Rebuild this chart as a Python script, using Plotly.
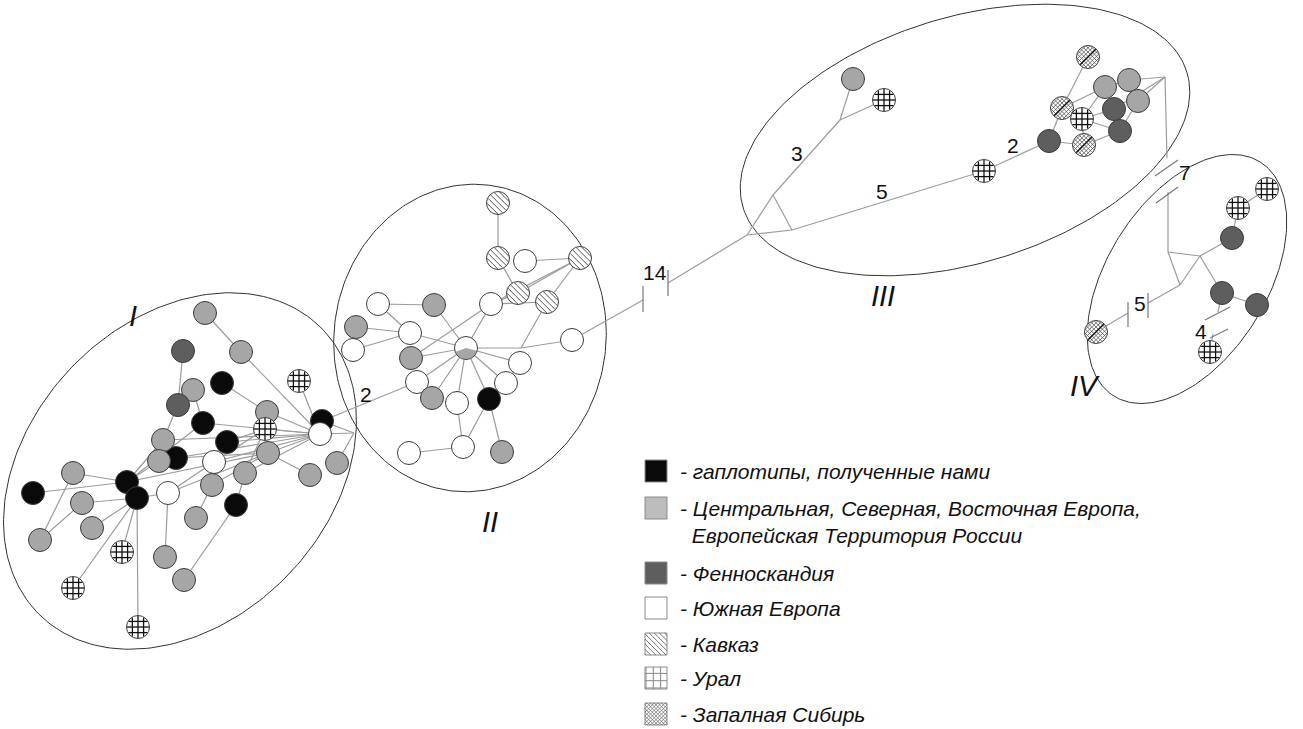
import numpy as np
import plotly.graph_objects as go

W, H = 1303, 729
R = 11.5  # node radius in px

# ---------------- data: haplotype nodes ----------------
# types: B black (ours), G central/north/east Europe, F Fennoscandia, W south Europe,
#        K Caucasus, U Ural, S West Siberia, C mixed (white+gray), v = median vertex
node_id = ["a1","a2","a3","a4","a5","a6","a7","a8","a10","a11","a14","a12","a13","a15","a16",
           "a17","a18","a19","a20","a21","a22","a23","a24","a25","a26","a27","a28","a29","a30",
           "a31","a32","a34","a35","a9","a33","a36","a37","j1",
           "b1","b2","b3","b4","b5","b6","b7","b8","b9","b12","b10","b11","b13","b14","b17","b15",
           "b16","b18","b19","b20","b21","b22","b23","b24","j2",
           "jA","jB","jC","jD","c1","c2","c3","c4","c5","c6","c7","c8","c9","c10","c11","c12","c13",
           "jE","jF","jG","jH","jI","jJ","d1","d2","d3","d4","d5","d6","d7",
           "p14a","p14b","p4a","p4b","p5a","p5b"]
node_x = [205,183,241,222,299,193,178,267,203,227,176,163,159,214,268,
          322,320,337,310,245,212,73,127,137,33,168,82,92,40,
          236,196,165,184,265,122,73,138,354,
          498,498,525,580,518,547,491,378,434,353,356,410,466,572,417,411,
          520,506,432,457,489,463,409,502,521,
          747,773,792,840,853,884,984,1049,1088,1105,1129,1062,1114,1138,1082,1120,1084,
          1165,1167,1168,1168,1200,1180,1232,1238,1267,1222,1257,1210,1096,
          643,668,1218,1213,1148,1128]
node_y = [313,351,352,383,381,390,405,412,423,442,458,440,461,462,453,
          421,434,463,475,473,485,473,482,498,493,493,503,528,540,
          505,518,557,580,429,552,588,627,433,
          203,258,261,258,293,302,304,304,305,350,327,333,348,340,382,358,
          363,383,398,403,399,447,453,452,348,
          235,195,230,120,79,100,171,141,57,87,80,108,109,101,119,131,145,
          77,158,192,252,256,285,238,208,189,293,305,352,332,
          300,283,312,334,303,313]
node_type = ["G","F","G","B","U","G","F","G","B","B","B","G","G","W","G",
             "B","W","G","G","G","G","G","B","B","B","W","G","G","G",
             "B","G","G","G","U","U","U","U","v",
             "K","K","W","K","K","K","W","W","G","W","G","W","C","W","W","G",
             "W","W","G","W","B","W","W","G","v",
             "v","v","v","v","G","U","U","F","S","G","G","S","F","G","U","F","S",
             "v","v","v","v","v","v","F","U","U","F","F","U","S",
             "v","v","v","v","v","v"]

# ---------------- data: network links ----------------
edges = [
    ("a1","a3"),("a3","a18"),("a2","a7"),("a6","a10"),("a7","a12"),("a4","a8"),("a5","a18"),
    ("a18","a8"),("a18","a9"),("a18","a10"),("a18","a12"),("a18","a11"),("a18","a14"),
    ("a18","a15"),("a18","a16"),("a18","a21"),("a18","j1"),("j1","a19"),("a17","j1"),
    ("a20","a16"),("a16","a24"),("a16","a27"),("a16","a14"),("a16","a22"),("a9","a15"),
    ("a9","a11"),("a24","a12"),("a24","a10"),("a24","a13"),("a23","a24"),("a26","a24"),
    ("a28","a25"),("a30","a23"),("a30","a28"),("a25","a29"),("a25","a33"),("a25","a36"),
    ("a25","a37"),("a25","a27"),("a27","a15"),("a34","a27"),("a35","a31"),("a32","a22"),
    ("a31","a21"),("a21","a9"),("a22","a11"),
    ("a17","b17"),
    ("b1","b2"),("b2","b5"),("b3","b4"),("b4","b5"),("b4","b6"),("b7","b4"),("b7","b5"),
    ("b7","b6"),("b15","b7"),("b13","b7"),("b8","b9"),("b8","b11"),("b10","b11"),("b12","b11"),
    ("b11","b13"),("b9","b13"),("b15","b13"),("b17","b13"),("b19","b13"),("b20","b13"),
    ("b21","b13"),("b18","b13"),("b16","b13"),("b13","j2"),("j2","b14"),("j2","b6"),
    ("b22","b20"),("b22","b21"),("b21","b24"),("b23","b22"),("b17","b19"),("b16","b18"),
    ("b14","p14a"),("p14b","jA"),
    ("jA","jB"),("jB","jC"),("jA","jC"),("jB","jD"),("jD","c1"),("jD","c2"),("jC","c3"),
    ("c3","c4"),("c4","c8"),("c4","c13"),("c5","c8"),("c8","c6"),("c8","c11"),("c11","c9"),
    ("c11","c12"),("c11","c13"),("c13","c12"),("c6","c9"),("c9","c12"),("c7","jE"),
    ("c10","jE"),("c9","jE"),("c6","c7"),("c10","c12"),("c11","c6"),("jE","jF"),
    ("jG","jH"),("jH","jI"),("jH","jJ"),("jJ","jI"),("jI","d1"),("d1","d2"),("d2","d3"),
    ("jI","d4"),("d4","d5"),("d4","p4a"),("p4b","d6"),("jJ","p5a"),("p5b","d7"),
]

# mutation-count break marks (segments) and their labels
break_x0 = [643, 668, 1155, 1156, 1205, 1210, 1148, 1128]
break_y0 = [286, 270, 176, 203, 320, 338, 293, 302]
break_x1 = [643, 668, 1178, 1178, 1230, 1228, 1148, 1128]
break_y1 = [312, 296, 160, 187, 307, 329, 318, 327]
step_labels = ["14", "3", "5", "2", "7", "5", "4", "2"]
step_x = [655, 797, 882, 1013, 1185, 1140, 1201, 366]
step_y = [272, 153, 191, 145, 172, 303, 331, 394]

# haplogroup ellipses
cluster_names = ["I", "II", "III", "IV"]
cluster_cx = [180, 470, 965, 1187]
cluster_cy = [471, 338, 140, 279]
cluster_a = [201, 154, 232, 138]
cluster_b = [150, 136, 123, 80]
cluster_angle = [46, 83, 17, 58]
cluster_label_x = [133, 490, 883, 1085]
cluster_label_y = [316, 522, 296, 386]

# legend
legend_types = ["B", "G", "F", "W", "K", "U", "S"]
legend_labels = ["- гаплотипы, полученные нами",
                 "- Центральная, Северная, Восточная Европа,<br>  Европейская Территория России",
                 "- Фенноскандия",
                 "- Южная Европа", "- Кавказ", "- Урал", "- Запалная Сибирь"]
legend_y = [471, 508, 573, 608, 644, 678, 714]

# ---------------- styles ----------------
fill = {"B": "#0a0a0a", "G": "#a6a6a6", "F": "#5e5e5e", "W": "#ffffff",
        "K": "#ffffff", "U": "#ffffff", "S": "#ffffff", "C": "#ffffff"}
legend_fill = {"B": "#0a0a0a", "G": "#bdbdbd", "F": "#5e5e5e", "W": "#ffffff",
               "K": "#ffffff", "U": "#ffffff", "S": "#ffffff"}
OUT = "#3c3c3c"
EDGE = "#9c9c9c"
FONT = "Liberation Sans, Arial"

pos = {n: (x, y) for n, x, y in zip(node_id, node_x, node_y)}
typ = dict(zip(node_id, node_type))

fig = go.Figure()

def seg_trace(xs, ys, color, width):
    fig.add_trace(go.Scatter(x=xs, y=ys, mode="lines", line=dict(color=color, width=width),
                             hoverinfo="skip", showlegend=False))

# ellipses
for cx, cy, a, b, ang in zip(cluster_cx, cluster_cy, cluster_a, cluster_b, cluster_angle):
    t = np.linspace(0, 2 * np.pi, 240)
    th = np.radians(ang)
    ex = cx + a * np.cos(t) * np.cos(th) - b * np.sin(t) * np.sin(th)
    ey = cy - (a * np.cos(t) * np.sin(th) + b * np.sin(t) * np.cos(th))
    seg_trace(ex, ey, "#333333", 1)

# edges
ex, ey = [], []
for u, v in edges:
    ex += [pos[u][0], pos[v][0], None]
    ey += [pos[u][1], pos[v][1], None]
seg_trace(ex, ey, EDGE, 1.2)

# break marks
bx, by = [], []
for x0, y0, x1, y1 in zip(break_x0, break_y0, break_x1, break_y1):
    bx += [x0, x1, None]
    by += [y0, y1, None]
seg_trace(bx, by, "#777777", 1.2)

# plain nodes
plain = [n for n in node_id if typ[n] in ("B", "G", "F", "W")]
fig.add_trace(go.Scatter(x=[pos[n][0] for n in plain], y=[pos[n][1] for n in plain], mode="markers",
                         marker=dict(size=2 * R, color=[fill[typ[n]] for n in plain],
                                     line=dict(color=OUT, width=1)),
                         hoverinfo="skip", showlegend=False))

# hatched / mixed nodes
special = [n for n in node_id if typ[n] in ("K", "U", "S", "C")]
fig.add_trace(go.Scatter(x=[pos[n][0] for n in special], y=[pos[n][1] for n in special], mode="markers",
                         marker=dict(size=2 * R, color="#ffffff", line=dict(width=0)),
                         hoverinfo="skip", showlegend=False))

def circle_hatch(cx, cy, r, ang, spacing, offset=0.0):
    d = np.array([np.cos(np.radians(ang)), np.sin(np.radians(ang))])
    nrm = np.array([-d[1], d[0]])
    xs, ys = [], []
    t = -r + offset
    while t <= r:
        if abs(t) < r:
            h = np.sqrt(r * r - t * t)
            p = np.array([cx, cy]) + t * nrm
            a, b = p - h * d, p + h * d
            xs += [a[0], b[0], None]
            ys += [a[1], b[1], None]
        t += spacing
    return xs, ys

def rect_hatch(x0, y0, x1, y1, ang, spacing):
    cx, cy = (x0 + x1) / 2, (y0 + y1) / 2
    r = np.hypot(x1 - x0, y1 - y0) / 2
    d = np.array([np.cos(np.radians(ang)), np.sin(np.radians(ang))])
    nrm = np.array([-d[1], d[0]])
    xs, ys = [], []
    t = -r + spacing / 2
    while t <= r:
        p = np.array([cx, cy]) + t * nrm
        lo, hi = -1e9, 1e9
        ok = True
        for k, (mn, mx) in enumerate([(x0, x1), (y0, y1)]):
            if abs(d[k]) < 1e-9:
                if not (mn <= p[k] <= mx):
                    ok = False
            else:
                s1, s2 = (mn - p[k]) / d[k], (mx - p[k]) / d[k]
                lo, hi = max(lo, min(s1, s2)), min(hi, max(s1, s2))
        if ok and hi > lo:
            a, b = p + lo * d, p + hi * d
            xs += [a[0], b[0], None]
            ys += [a[1], b[1], None]
        t += spacing
    return xs, ys

kx, ky, ux, uy, sx, sy, s2x, s2y = [], [], [], [], [], [], [], []
for n in special:
    cx, cy = pos[n]
    if typ[n] == "K":
        a, b = circle_hatch(cx, cy, R - 0.5, 45, 4.2, 2.1)
        kx += a; ky += b
    elif typ[n] == "U":
        for ang in (0, 90):
            a, b = circle_hatch(cx, cy, R - 0.5, ang, 5.6, R - 0.5 - 5.6 * 2 + 0.01)
            ux += a; uy += b
    elif typ[n] == "S":
        for ang in (45, -45):
            a, b = circle_hatch(cx, cy, R - 0.5, ang, 3.0, 1.5)
            sx += a; sy += b
        a, b = circle_hatch(cx, cy, R - 0.5, -45, 30, R - 0.5)
        s2x += a; s2y += b
    elif typ[n] == "C":
        th = np.radians(np.linspace(200, 345, 30))
        wx = [cx] + list(cx + (R - 0.5) * np.cos(th)) + [cx]
        wy = [cy] + list(cy - (R - 0.5) * np.sin(th)) + [cy]
        fig.add_trace(go.Scatter(x=wx, y=wy, mode="lines", fill="toself", fillcolor="#a6a6a6",
                                 line=dict(width=0), hoverinfo="skip", showlegend=False))
seg_trace(kx, ky, "#555555", 1)
seg_trace(ux, uy, "#111111", 1.3)
seg_trace(sx, sy, "#555555", 0.8)
seg_trace(s2x, s2y, "#111111", 1.3)
fig.add_trace(go.Scatter(x=[pos[n][0] for n in special], y=[pos[n][1] for n in special], mode="markers",
                         marker=dict(size=2 * R, color="rgba(0,0,0,0)", line=dict(color=OUT, width=1)),
                         hoverinfo="skip", showlegend=False))

# ---------------- legend (drawn) ----------------
SQ = 22
LX0 = 645
shapes = []
lkx, lky, lux, luy, lsx, lsy = [], [], [], [], [], []
for t_, ly in zip(legend_types, legend_y):
    y0, y1 = ly - SQ / 2, ly + SQ / 2
    shapes.append(dict(type="rect", x0=LX0, x1=LX0 + SQ, y0=y0, y1=y1, xref="x", yref="y",
                       fillcolor=legend_fill[t_], line=dict(color="#8a8a8a", width=1), layer="below"))
    if t_ == "K":
        a, b = rect_hatch(LX0, y0, LX0 + SQ, y1, 45, 3.6); lkx += a; lky += b
    if t_ == "U":
        for ang in (0, 90):
            a, b = rect_hatch(LX0, y0, LX0 + SQ, y1, ang, 7.3); lux += a; luy += b
    if t_ == "S":
        for ang in (45, -45):
            a, b = rect_hatch(LX0, y0, LX0 + SQ, y1, ang, 2.6); lsx += a; lsy += b
seg_trace(lkx, lky, "#666666", 0.9)
seg_trace(lux, luy, "#888888", 1)
seg_trace(lsx, lsy, "#666666", 0.7)

annotations = []
for lab, ly in zip(legend_labels, legend_y):
    two = "<br>" in lab
    annotations.append(dict(x=678, y=ly, xref="x", yref="y", text=lab, showarrow=False,
                            xanchor="left", yanchor="top" if two else "middle",
                            yshift=13 if two else 0, align="left",
                            font=dict(family=FONT, size=21, color="#111111", style="italic")))
for lab, x, y in zip(step_labels, step_x, step_y):
    annotations.append(dict(x=x, y=y, xref="x", yref="y", text=lab, showarrow=False,
                            font=dict(family=FONT, size=21, color="#111111")))
for lab, x, y in zip(cluster_names, cluster_label_x, cluster_label_y):
    annotations.append(dict(x=x, y=y, xref="x", yref="y", text=lab, showarrow=False,
                            font=dict(family=FONT, size=29, color="#111111", style="italic")))

fig.update_layout(
    width=W, height=H, margin=dict(l=0, r=0, t=0, b=0),
    paper_bgcolor="white", plot_bgcolor="white",
    xaxis=dict(range=[0, W], visible=False, fixedrange=True),
    yaxis=dict(range=[H, 0], visible=False, fixedrange=True),
    shapes=shapes, annotations=annotations, showlegend=False,
)
fig.write_html("out.html", config={"displayModeBar": False},
               post_script="document.body.style.margin='0px';document.body.style.overflow='hidden';")
